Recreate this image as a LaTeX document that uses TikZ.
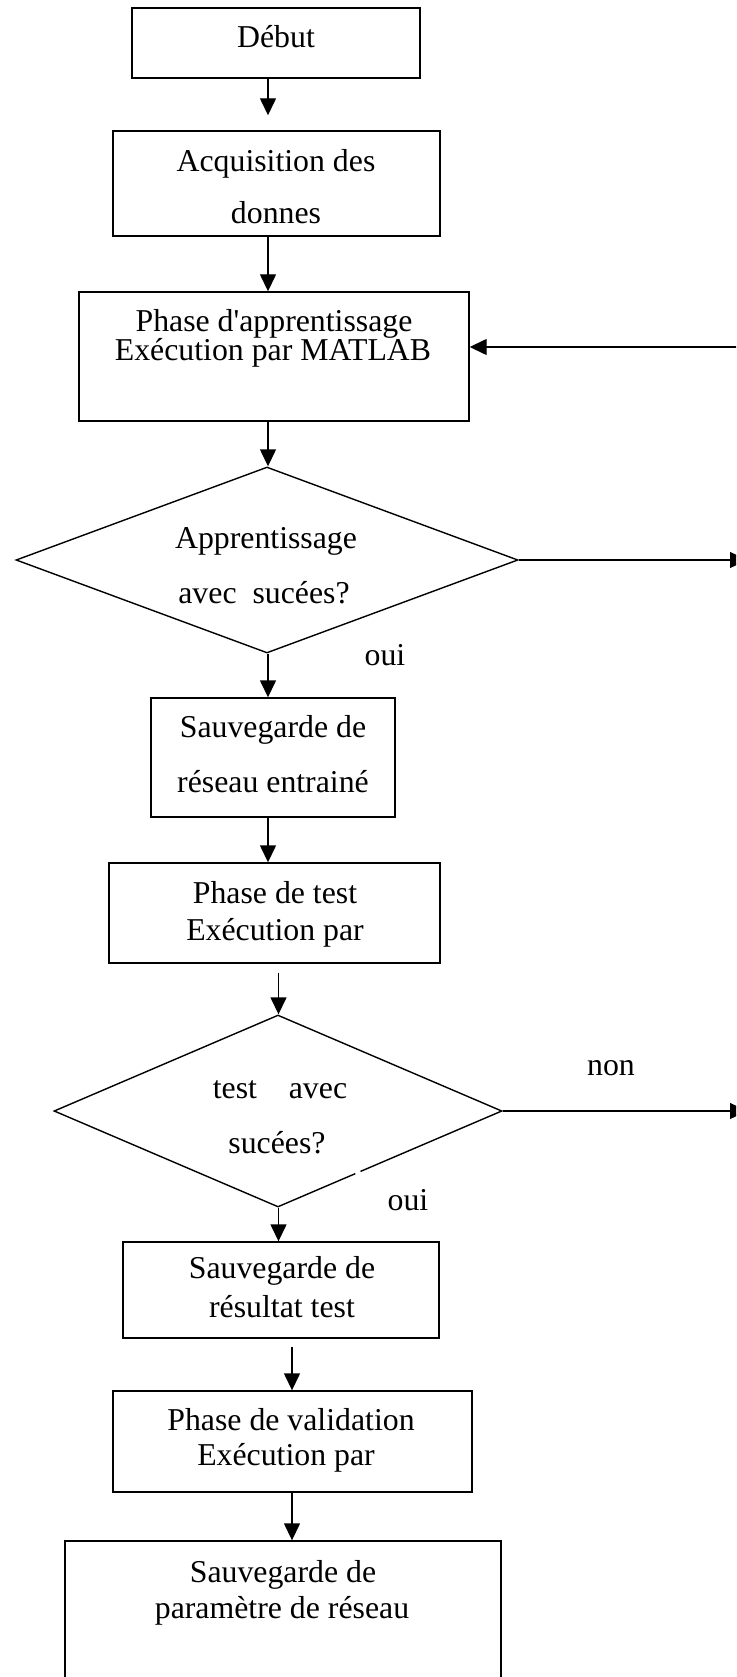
\documentclass[tikz,border=0pt]{standalone}
\usepackage{fontspec}
\setmainfont{Liberation Serif}[Ligatures=TeXOff]
\usetikzlibrary{shapes.geometric,arrows.meta}

\begin{document}
\begin{tikzpicture}[x=1pt,y=-1pt,
  box/.style={draw=black, line width=1.4pt, rectangle, inner sep=0pt},
  decision/.style={draw=black, line width=1.4pt, diamond, inner sep=0pt},
  lbl/.style={font=\fontsize{31.8}{38}\selectfont, anchor=base, inner sep=0pt},
  arr/.style={line width=1.4pt, -{Triangle[length=17pt,width=16pt]}}]

  % page frame
  \useasboundingbox (0,0) rectangle (736,1677);
  \clip (0,0) rectangle (736,1677);

  % boxes and decisions
  \node[box, minimum width=288pt, minimum height=70pt]  (start) at (276,43)     {};
  \node[box, minimum width=327pt, minimum height=105pt] (acq)   at (276.5,183.5) {};
  \node[box, minimum width=390pt, minimum height=129pt] (app)   at (274,356.5)  {};
  \node[decision, minimum width=502pt, minimum height=186pt] (d1) at (267,560) {};
  \node[box, minimum width=244pt, minimum height=119pt] (sauv1) at (273,757.5)  {};
  \node[box, minimum width=331pt, minimum height=100pt] (test)  at (274.5,913) {};
  \node[decision, minimum width=448pt, minimum height=192pt] (d2) at (278,1111) {};
  \node[box, minimum width=316pt, minimum height=96pt]  (sauv2) at (281,1290)   {};
  \node[box, minimum width=359pt, minimum height=101pt] (val)   at (292.5,1441.5) {};
  \node[box, minimum width=436pt, minimum height=180pt] (final) at (283,1631)   {};

  % texts
  \node[lbl] (t-start)  at (276,48)    {Début};
  \node[lbl] (t-acq1)   at (276,172)   {Acquisition des};
  \node[lbl] (t-acq2)   at (276,224)   {donnes};
  \node[lbl] (t-app1)   at (274,331)   {Phase d'apprentissage};
  \node[lbl] (t-app2)   at (273,360)   {Exécution par MATLAB};
  \node[lbl] (t-d1a)    at (266,548)   {Apprentissage};
  \node[lbl] (t-d1b)    at (264,603)   {avec\ \ sucées?};
  \node[lbl] (t-oui1)   at (385,665)   {oui};
  \node[lbl] (t-sv1a)   at (273,737)   {Sauvegarde de};
  \node[lbl] (t-sv1b)   at (273,792)   {réseau entrainé};
  \node[lbl] (t-test1)  at (275,903)   {Phase de test};
  \node[lbl] (t-test2)  at (275,940)   {Exécution par};
  \node[lbl] (t-d2a)    at (280,1098)  {test\ \ \ \ avec};
  \node[lbl] (t-d2b)    at (277,1153)  {sucées?};
  \node[lbl] (t-non)    at (611,1075)  {non};
  \node[lbl] (t-oui2)   at (408,1210)  {oui};
  \node[lbl] (t-sv2a)   at (282,1278)  {Sauvegarde de};
  \node[lbl] (t-sv2b)   at (282,1317)  {résultat test};
  \node[lbl] (t-val1)   at (291,1430)  {Phase de validation};
  \node[lbl] (t-val2)   at (286,1465)  {Exécution par};
  \node[lbl] (t-fin1)   at (283,1582)  {Sauvegarde de};
  \node[lbl] (t-fin2)   at (282,1618)  {paramètre de réseau};

  % small break in the lower right edge of the second decision
  \draw[white, line width=3.4pt] (355.5,1173.8) -- (360.5,1171.6);

  % arrow columns
  \coordinate (colA) at (268,0);
  \coordinate (colC) at (278.5,0);
  \coordinate (colD) at (292,0);
  \coordinate (fb)   at (740,347);
  \coordinate (out1) at (747,560);
  \coordinate (out2) at (747,1111);

  % main flow
  \draw[arr, shorten >=15pt] (start.south -| colA) -- (acq.north -| colA);
  \draw[arr] (acq.south -| colA)   -- (app.north -| colA);
  \draw[arr] (app.south -| colA)   -- (d1.north -| colA);
  \draw[arr] (d1.south -| colA)    -- (sauv1.north -| colA);
  \draw[arr] (sauv1.south -| colA) -- (test.north -| colA);
  \draw[arr, shorten <=9pt] (test.south -| colC) -- (d2.north -| colC);
  \draw[arr] (d2.south -| colC)    -- (sauv2.north -| colC);
  \draw[arr, shorten <=8pt] (sauv2.south -| colD) -- (val.north -| colD);
  \draw[arr] (val.south -| colD)   -- (final.north -| colD);

  % side branches
  \draw[arr] (fb) -- (fb -| app.east);
  \draw[arr] (d1.east) -- (out1);
  \draw[arr] (d2.east) -- (out2);
\end{tikzpicture}
\end{document}
